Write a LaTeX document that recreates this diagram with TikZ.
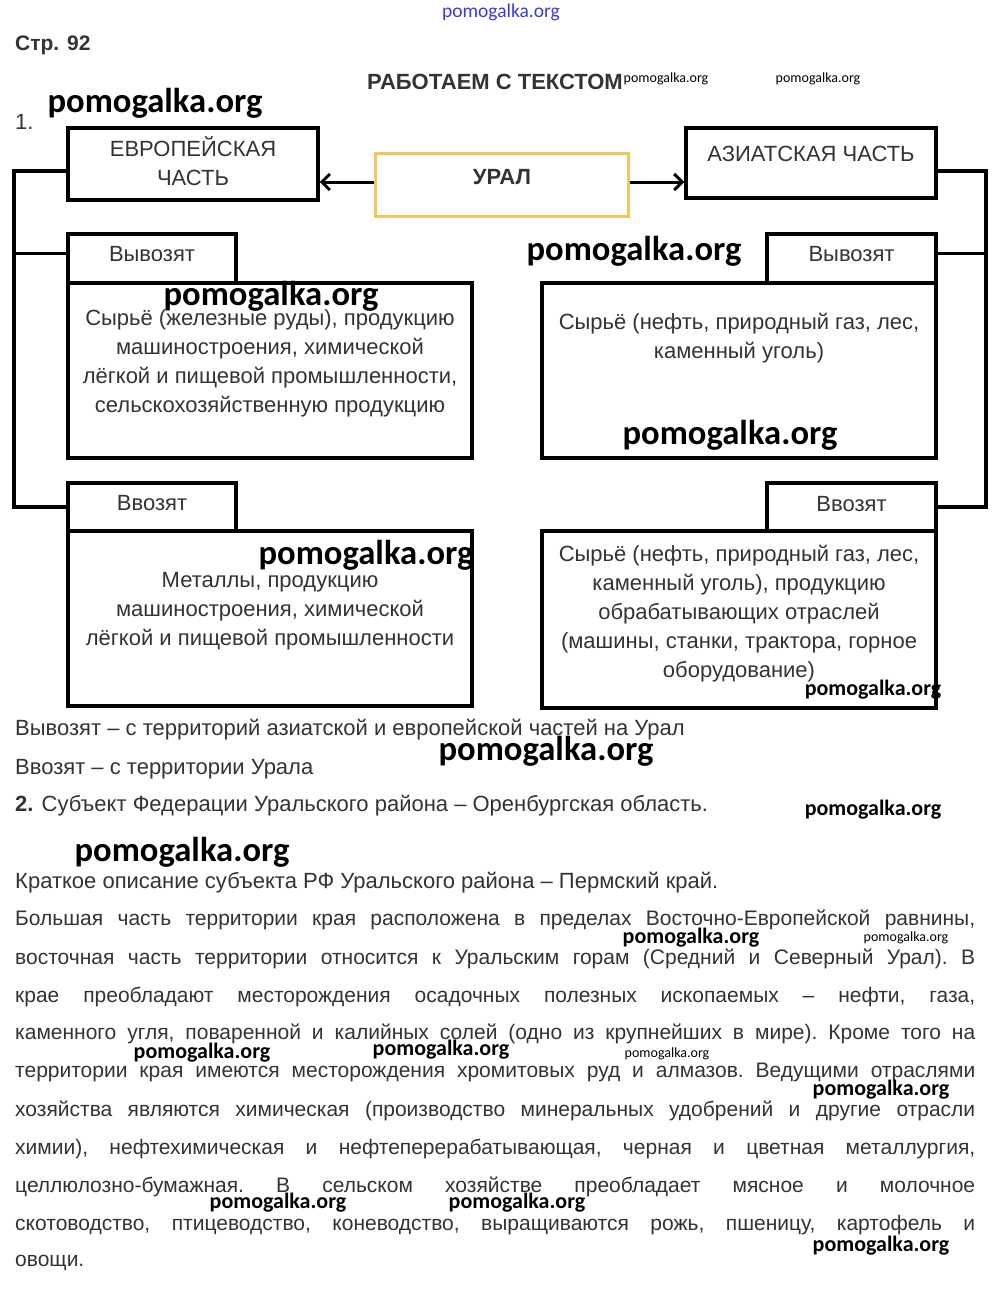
\documentclass[tikz,border=0pt]{standalone}
\usepackage{fontspec}
\setmainfont{Liberation Sans}
\newfontfamily\wmfont{Carlito}
\usepackage{xcolor}
\usetikzlibrary{arrows.meta,calc,positioning}
\definecolor{txtgray}{HTML}{333333}
\definecolor{uralcol}{HTML}{F4C55E}
\definecolor{wmblue}{HTML}{3A3AE0}

\begin{document}
\begin{tikzpicture}[x=1pt,y=-1pt,
    frame/.style={draw=black, line width=3.5pt, fill=white, inner sep=0pt},
    uralbox/.style={draw=uralcol, line width=3pt, fill=white, inner sep=0pt},
    link/.style={line width=3.5pt},
    arr/.style={line width=3pt, -{Straight Barb[length=8pt,width=16pt]}},
    tabtxt/.style={font=\fontsize{22}{24}\selectfont, text=txtgray},
    boxtxt/.style={align=center, font=\fontsize{22}{29}\selectfont, text=txtgray},
    bodytxt/.style={anchor=west, inner sep=0pt, font=\fontsize{22}{24}\selectfont, text=txtgray},
    partxt/.style={anchor=west, inner sep=0pt, font=\frenchspacing\fontsize{21}{24}\selectfont, text=txtgray},
    wmbig/.style={font=\wmfont\bfseries\fontsize{34.6}{36}\selectfont},
    wmmid/.style={font=\wmfont\bfseries\fontsize{22}{24}\selectfont},
    wmsmall/.style={font=\wmfont\fontsize{14}{15}\selectfont}]
  \useasboundingbox[fill=white] (0,0) rectangle (1000,1306);

  % heading
  \node[bodytxt, font=\bfseries\fontsize{21}{24}\selectfont] (page) at (15,45) {Стр. 92};
  \node[font=\bfseries\fontsize{22}{24}\selectfont, text=txtgray] (title) at (495,82) {РАБОТАЕМ С ТЕКСТОМ};
  \node[bodytxt] (num1) at (15,122) {1.};

  % top row
  \node[frame, minimum width=250pt, minimum height=72pt] (euroPart) at (193,164) {};
  \node[align=center, font=\fontsize{22}{29}\selectfont, text=txtgray] (euroTxt) at (193,161) {ЕВРОПЕЙСКАЯ\\ЧАСТЬ};
  \node[uralbox, minimum width=253pt, minimum height=63pt] (uralBox) at (501.5,184.5) {};
  \node[font=\bfseries\fontsize{22}{24}\selectfont, text=txtgray] (uralTxt) at (502,177) {УРАЛ};
  \node[frame, minimum width=250pt, minimum height=70pt] (asiaPart) at (811,163) {};
  \node[font=\fontsize{22}{24}\selectfont, text=txtgray] (asiaTxt) at (811,154) {АЗИАТСКАЯ ЧАСТЬ};
  \draw[arr] ([yshift=2.5pt]uralBox.west) -- ([yshift=2.5pt]uralBox.west -| euroPart.east);
  \draw[arr] ([yshift=2.5pt]uralBox.east) -- ([yshift=2.5pt]uralBox.east -| asiaPart.west);

  % left side
  \node[frame, minimum width=404pt, minimum height=175pt] (outEuBox) at (270,370.5) {};
  \node[frame, minimum width=168pt, minimum height=49pt] (outEuTab) at (152,258.5) {};
  \node[tabtxt] at (152,254) {Вывозят};
  \node[boxtxt] (outEuTxt) at (270,363) {Сырьё (железные руды), продукцию\\машиностроения, химической\\лёгкой и пищевой промышленности,\\сельскохозяйственную продукцию};
  \node[frame, minimum width=404pt, minimum height=175pt] (inEuBox) at (270,618.5) {};
  \node[frame, minimum width=168pt, minimum height=48pt] (inEuTab) at (152,507) {};
  \node[tabtxt] at (152,503) {Ввозят};
  \node[boxtxt] (inEuTxt) at (270,611) {Металлы, продукцию\\машиностроения, химической\\лёгкой и пищевой промышленности};

  % right side
  \node[frame, minimum width=394pt, minimum height=175pt] (outAsBox) at (739,370.5) {};
  \node[frame, minimum width=169pt, minimum height=49pt] (outAsTab) at (851.5,258.5) {};
  \node[tabtxt] at (851.5,254) {Вывозят};
  \node[boxtxt] (outAsTxt) at (739,338.5) {Сырьё (нефть, природный газ, лес,\\каменный уголь)};
  \node[frame, minimum width=394pt, minimum height=177pt] (inAsBox) at (739,619.5) {};
  \node[frame, minimum width=169pt, minimum height=48pt] (inAsTab) at (851.5,507) {};
  \node[tabtxt] at (851.5,504) {Ввозят};
  \node[boxtxt] (inAsTxt) at (739,614) {Сырьё (нефть, природный газ, лес,\\каменный уголь), продукцию\\обрабатывающих отраслей\\(машины, станки, трактора, горное\\оборудование)};

  % brackets
  \coordinate (lbar) at (14,0);
  \coordinate (rbar) at (986,0);
  \draw[link] ([yshift=-7pt]euroPart.west) -| (lbar |- inEuTab.west) -- (inEuTab.west);
  \draw[link] ([yshift=5pt]outEuTab.west) -- ([yshift=5pt]outEuTab.west -| lbar);
  \draw[link] ([yshift=-8pt]asiaPart.east) -| (rbar |- inAsTab.west) -- (inAsTab.east);
  \draw[link] ([yshift=5pt]outAsTab.east) -- ([yshift=5pt]outAsTab.east -| rbar);

  % text below
  \node[bodytxt] (note1) at (15,730) {Вывозят – с территорий азиатской и европейской частей на Урал};
  \node[bodytxt] (note2) at (15,769) {Ввозят – с территории Урала};
  \node[bodytxt] (task2) at (15,806) {\textbf{2.} Субъект Федерации Уральского района – Оренбургская область.};
  \node[bodytxt] (intro) at (15,883) {Краткое описание субъекта РФ Уральского района – Пермский край.};
  \node[partxt] (par1) at (15,920) {\makebox[960pt][s]{Большая часть территории края расположена в пределах Восточно-Европейской равнины,}};
  \node[partxt] (par2) at (15,959) {\makebox[960pt][s]{восточная часть территории относится к Уральским горам (Средний и Северный Урал). В}};
  \node[partxt] (par3) at (15,997) {\makebox[960pt][s]{крае преобладают месторождения осадочных полезных ископаемых – нефти, газа,}};
  \node[partxt] (par4) at (15,1034) {\makebox[960pt][s]{каменного угля, поваренной и калийных солей (одно из крупнейших в мире). Кроме того на}};
  \node[partxt] (par5) at (15,1072) {\makebox[960pt][s]{территории края имеются месторождения хромитовых руд и алмазов. Ведущими отраслями}};
  \node[partxt] (par6) at (15,1111) {\makebox[960pt][s]{хозяйства являются химическая (производство минеральных удобрений и другие отрасли}};
  \node[partxt] (par7) at (15,1149) {\makebox[960pt][s]{химии), нефтехимическая и нефтеперерабатывающая, черная и цветная металлургия,}};
  \node[partxt] (par8) at (15,1187) {\makebox[960pt][s]{целлюлозно-бумажная. В сельском хозяйстве преобладает мясное и молочное}};
  \node[partxt] (par9) at (15,1225) {\makebox[960pt][s]{скотоводство, птицеводство, коневодство, выращиваются рожь, пшеницу, картофель и}};
  \node[partxt] (par10) at (15,1263) {овощи.};

  % watermarks
  \node[font=\wmfont\fontsize{19.5}{21}\selectfont, text=wmblue] (wm0) at (501,12) {pomogalka.org};
  \node[wmsmall] (wm1) at (666,79) {pomogalka.org};
  \node[wmsmall] (wm2) at (818,79) {pomogalka.org};
  \node[wmbig] (wm3) at (155,103) {pomogalka.org};
  \node[wmbig] (wm4) at (634,251) {pomogalka.org};
  \node[wmbig] (wm5) at (271,296) {pomogalka.org};
  \node[wmbig] (wm6) at (730,435) {pomogalka.org};
  \node[wmbig] (wm7) at (366,555) {pomogalka.org};
  \node[wmmid] (wm8) at (873,690) {pomogalka.org};
  \node[wmbig] (wm9) at (546,751) {pomogalka.org};
  \node[wmmid] (wm10) at (873,810) {pomogalka.org};
  \node[wmbig] (wm11) at (182,852) {pomogalka.org};
  \node[wmmid] (wm12) at (691,938) {pomogalka.org};
  \node[wmsmall] (wm13) at (906,938) {pomogalka.org};
  \node[wmmid] (wm14) at (202,1053) {pomogalka.org};
  \node[wmmid] (wm15) at (441,1050) {pomogalka.org};
  \node[wmsmall] (wm16) at (667,1054) {pomogalka.org};
  \node[wmmid] (wm17) at (881,1090) {pomogalka.org};
  \node[wmmid] (wm18) at (278,1203) {pomogalka.org};
  \node[wmmid] (wm19) at (517,1203) {pomogalka.org};
  \node[wmmid] (wm20) at (881,1246) {pomogalka.org};
\end{tikzpicture}
\end{document}
